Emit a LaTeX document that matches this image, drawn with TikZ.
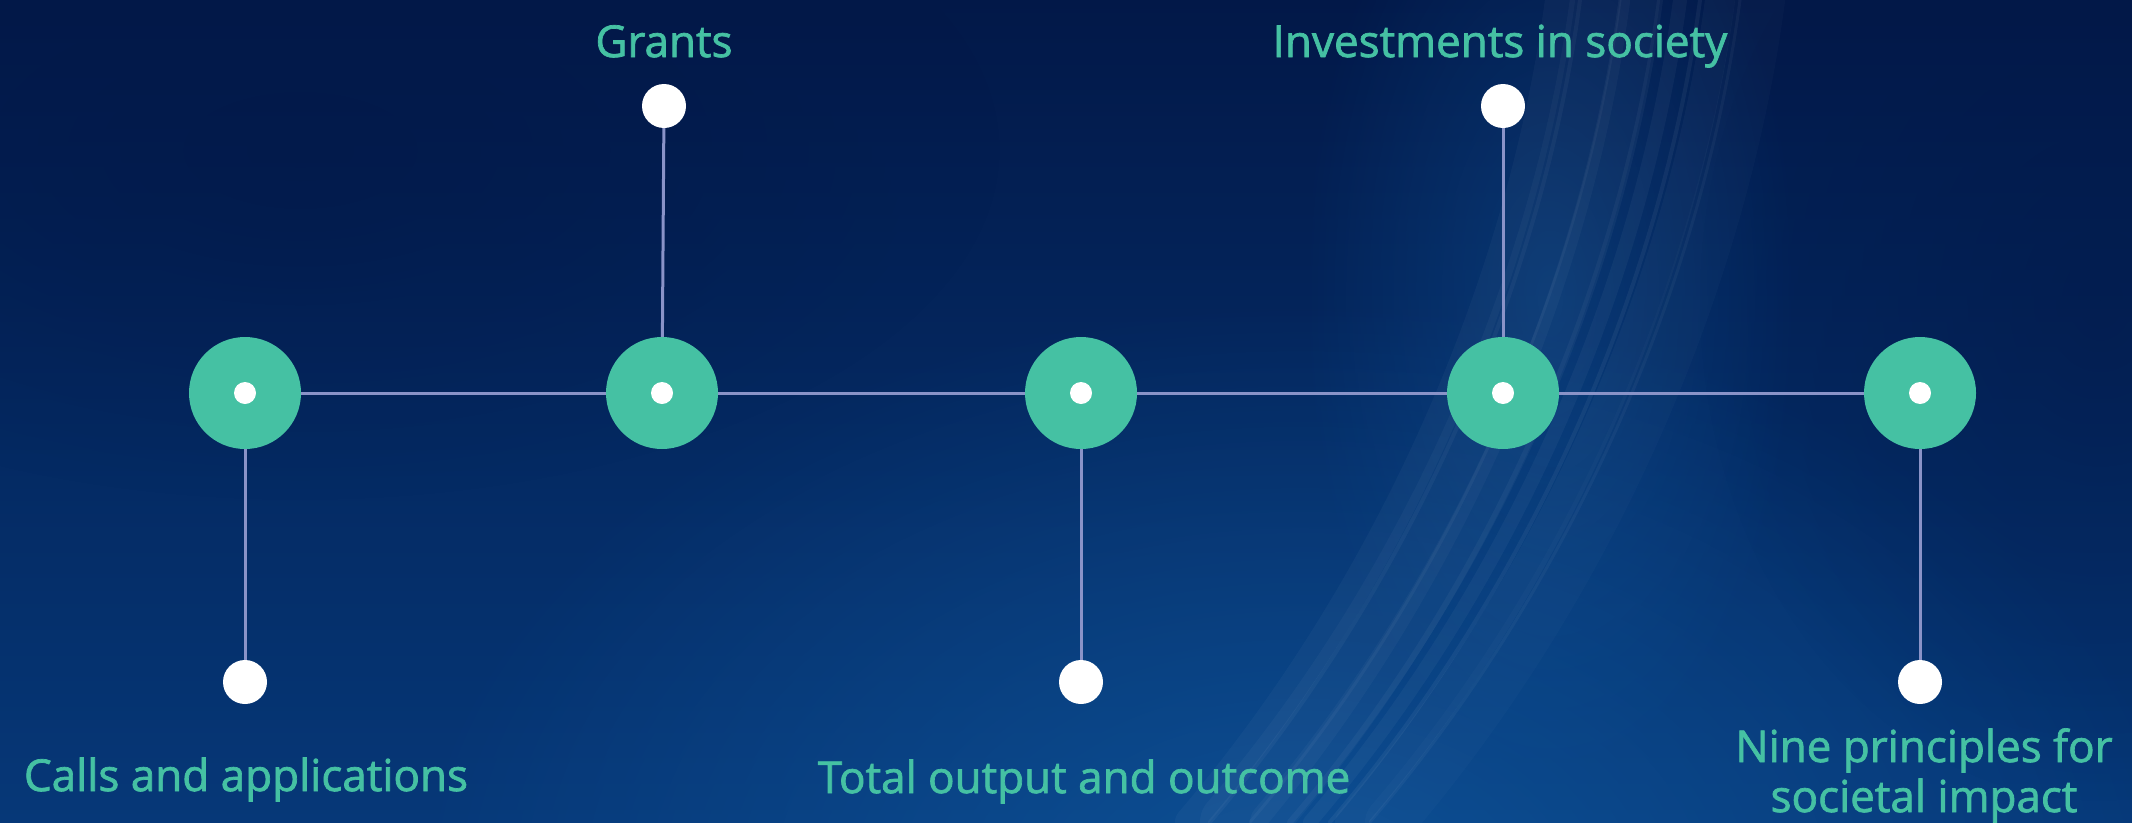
\documentclass[tikz,border=0pt]{standalone}
\usepackage{fontspec}
\setmainfont{Open Sans}
\newfontfamily\lblfont{Open Sans}[FakeBold=1.6]
\usetikzlibrary{fadings}
\tikzfading[name=softglow, inner color=transparent!0, outer color=transparent!100]
\definecolor{bgtop}{HTML}{021848}
\definecolor{bgbot}{HTML}{063878}
\definecolor{glow}{HTML}{1260A8}
\definecolor{teal}{HTML}{45C1A3}
\definecolor{linec}{HTML}{8A93C8}
\tikzset{
  hub/.style={circle, fill=teal, minimum size=112pt, inner sep=0pt},
  dotc/.style={circle, fill=white, minimum size=22pt, inner sep=0pt},
  leaf/.style={circle, fill=white, minimum size=44pt, inner sep=0pt},
  conn/.style={draw=linec, line width=3pt},
  lbl/.style={text=teal, anchor=base, align=center, font=\lblfont\fontsize{44}{50}\selectfont, inner sep=0pt},
  swoosh/.style={white, line cap=round}
}
\begin{document}
\begin{tikzpicture}[x=1pt,y=-1pt]
\useasboundingbox (0,0) rectangle (2132,822);
% background
\shade[top color=bgtop, bottom color=bgbot] (0,0) rectangle (2132,822);
\begin{scope}
\clip (0,0) rectangle (2132,822);
\fill[glow, path fading=softglow, opacity=0.6] (1300,900) ellipse (900 and 600);
\fill[glow, path fading=softglow, opacity=0.35] (1550,300) ellipse (250 and 500);
\fill[bgtop, path fading=softglow, opacity=0.6] (300,150) ellipse (700 and 350);
\fill[bgtop, path fading=softglow, opacity=0.5] (2100,300) ellipse (400 and 500);
\foreach \d/\o/\w in {0/0.03/60, 40/0.03/40, 80/0.04/14, 120/0.03/30, -40/0.03/30, 160/0.02/50, 60/0.04/6, 100/0.05/4, 20/0.04/3, 140/0.04/3, -20/0.04/4}{
  \draw[swoosh, opacity=\o, line width=\w pt] (1600+\d,0) .. controls (1560+\d,300) and (1420+\d,600) .. (1230+\d,822);
}
\end{scope}
% hubs
\node[hub] (h1) at (245,393) {};
\node[hub] (h2) at (662,393) {};
\node[hub] (h3) at (1081,393) {};
\node[hub] (h4) at (1503,393) {};
\node[hub] (h5) at (1920,393) {};
% leaves
\node[leaf] (l1) at (245,682) {};
\node[leaf] (l2) at (664,106) {};
\node[leaf] (l3) at (1081,682) {};
\node[leaf] (l4) at (1503,106) {};
\node[leaf] (l5) at (1920,682) {};
% connectors
\draw[conn] (h1) -- (h2);
\draw[conn] (h2) -- (h3);
\draw[conn] (h3) -- (h4);
\draw[conn] (h4) -- (h5);
\draw[conn] (h1) -- (l1);
\draw[conn] (h2) -- (l2);
\draw[conn] (h3) -- (l3);
\draw[conn] (h4) -- (l4);
\draw[conn] (h5) -- (l5);
% center dots
\foreach \i in {1,...,5}{ \node[dotc] (d\i) at (h\i) {}; }
% labels
\node[lbl] (t1) at (246,791) {Calls and applications};
\node[lbl] (t2) at (664,57) {Grants};
\node[lbl] (t3) at (1084,793) {Total output and outcome};
\node[lbl] (t4) at (1500,57) {Investments in society};
\node[lbl] (t5) at (1924,812) {Nine principles for\\societal impact};
\end{tikzpicture}
\end{document}
